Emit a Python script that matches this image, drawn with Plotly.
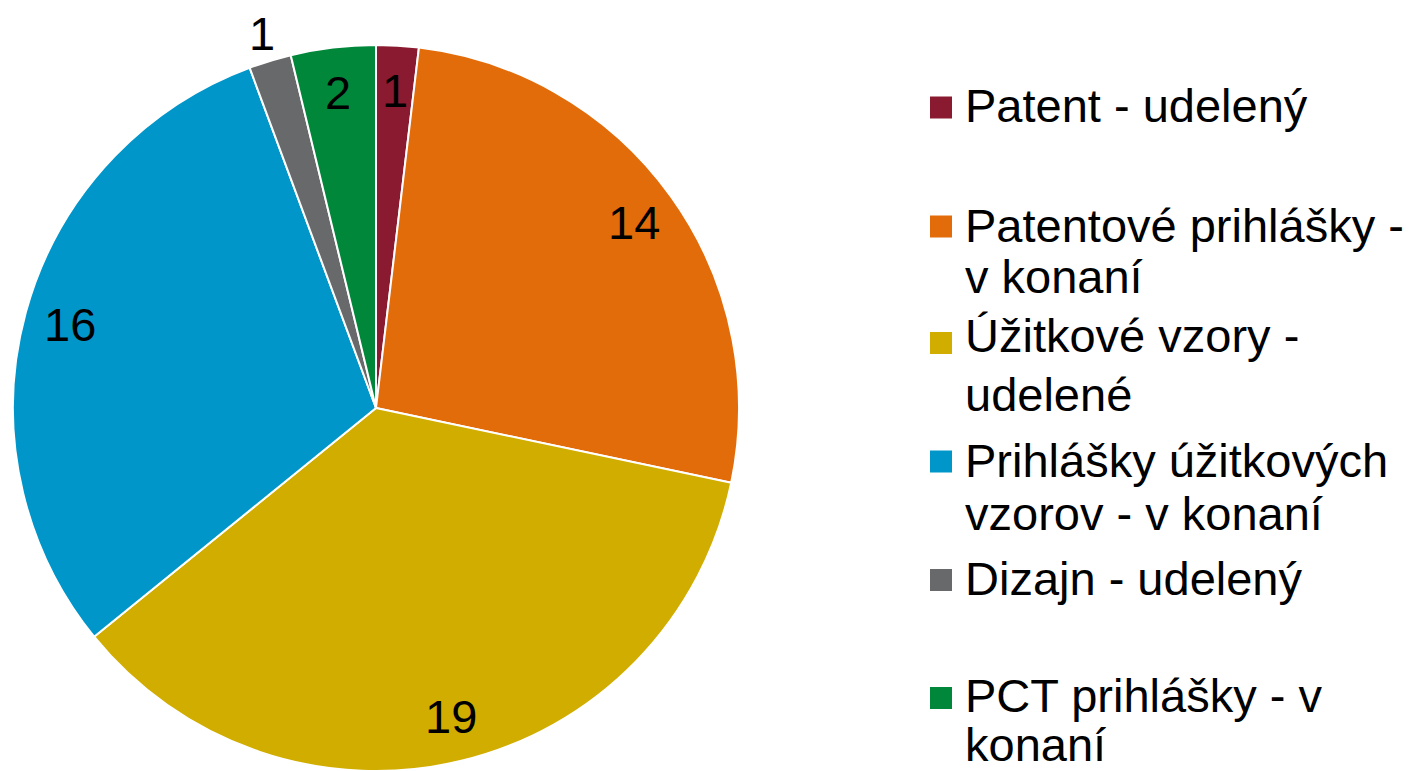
import numpy as np
import plotly.graph_objects as go

# ---- data ----
labels = [
    "Patent - udelený",
    "Patentové prihlášky - v konaní",
    "Úžitkové vzory - udelené",
    "Prihlášky úžitkových vzorov - v konaní",
    "Dizajn - udelený",
    "PCT prihlášky - v konaní",
]
values = [1, 14, 19, 16, 1, 2]
colors = ["#8A1A2F", "#E36C0A", "#D1AD00", "#0096C9", "#68696B", "#00873A"]
legend_lines = [
    ["Patent - udelený"],
    ["Patentové prihlášky -", "v konaní"],
    ["Úžitkové vzory -", "udelené"],
    ["Prihlášky úžitkových", "vzorov - v konaní"],
    ["Dizajn - udelený"],
    ["PCT prihlášky - v", "konaní"],
]
label_outside = [False, False, False, False, True, False]

# ---- layout geometry (pixels) ----
W, H = 1420, 771
cx, cy, R = 376.0, 408.0, 363.0
FONT = "Liberation Sans, Arial, sans-serif"
FS = 47

def px(x):
    return x / W

def py(y):
    return 1 - y / H

fig = go.Figure()
fig.add_trace(go.Pie(
    labels=labels,
    values=values,
    sort=False,
    direction="clockwise",
    rotation=0,
    marker=dict(colors=colors, line=dict(color="white", width=2)),
    textinfo="none",
    showlegend=False,
    domain=dict(x=[px(cx - R), px(cx + R)], y=[py(cy + R), py(cy - R)]),
))

annotations = []
# data labels at the mid angle of each slice
total = float(np.sum(values))
cum = np.cumsum([0] + values)
for i, v in enumerate(values):
    mid = (cum[i] + v / 2) / total * 2 * np.pi
    r = R * (1.08 if label_outside[i] else 0.875)
    x = cx + r * np.sin(mid)
    y = cy - r * np.cos(mid)
    annotations.append(dict(
        x=px(x), y=py(y), xref="paper", yref="paper",
        text=str(v), showarrow=False, xanchor="center", yanchor="middle",
        font=dict(family=FONT, size=FS, color="black"),
    ))

# manual legend (Excel-like spacing)
line_centers = [[106], [225, 276], [335, 395], [460, 513], [578], [695, 744]]
square_centers = [107.5, 226.5, 343, 461.5, 580, 698]
shapes = []
sq = 22
for i, lines in enumerate(legend_lines):
    sc = square_centers[i]
    shapes.append(dict(
        type="rect", xref="paper", yref="paper",
        x0=px(930), x1=px(930 + sq), y0=py(sc + sq / 2), y1=py(sc - sq / 2),
        fillcolor=colors[i], line=dict(width=0),
    ))
    for ln, yc in zip(lines, line_centers[i]):
        annotations.append(dict(
            x=px(963), y=py(yc), xref="paper", yref="paper",
            text=ln, showarrow=False, xanchor="left", yanchor="middle",
            font=dict(family=FONT, size=FS, color="black"),
        ))

fig.update_layout(
    width=W, height=H,
    margin=dict(l=0, r=0, t=0, b=0),
    paper_bgcolor="white", plot_bgcolor="white",
    annotations=annotations, shapes=shapes,
    showlegend=False,
)

fig.write_html(
    "out.html",
    config={"displayModeBar": False},
    post_script="document.body.style.margin='0';document.body.style.overflow='hidden';",
)
